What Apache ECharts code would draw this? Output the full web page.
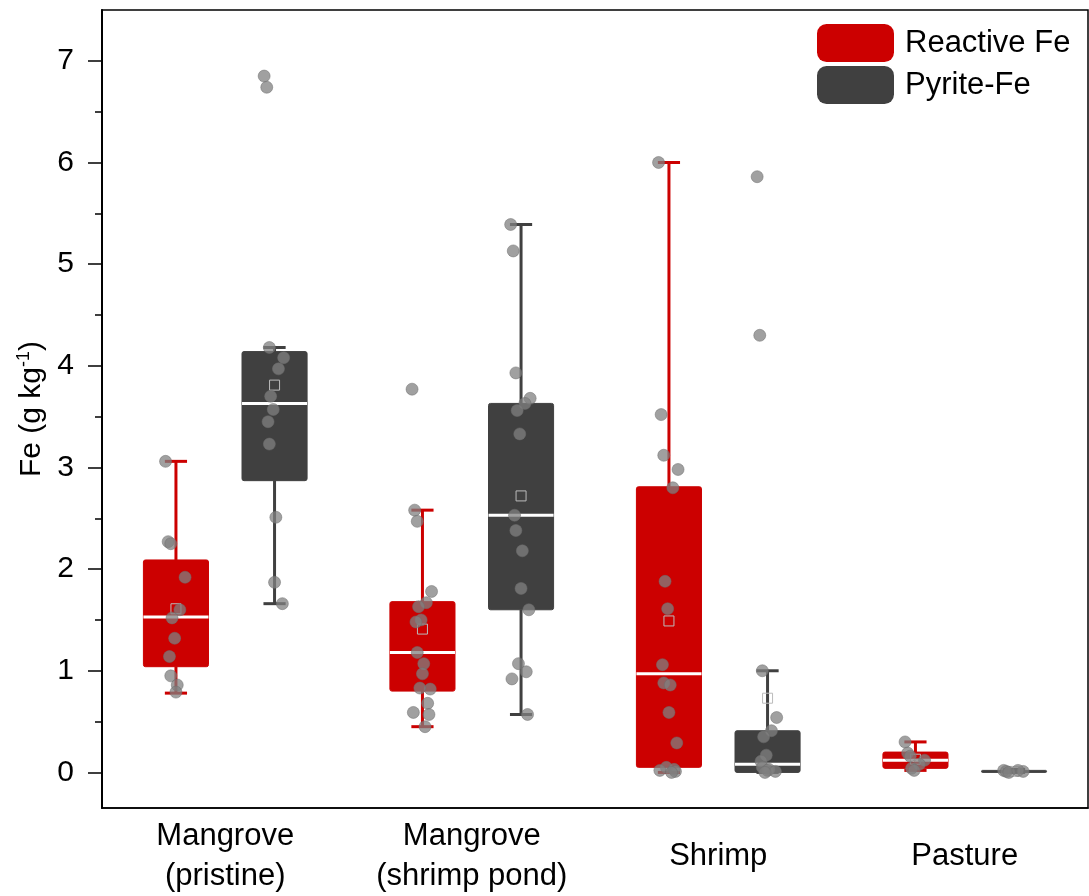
<!DOCTYPE html>
<html>
<head>
<meta charset="utf-8">
<script src="https://cdn.jsdelivr.net/npm/echarts@6/dist/echarts.min.js"></script>
<style>
  html, body { margin: 0; padding: 0; background: #fff; }
  #chart { width: 1089px; height: 896px; }
</style>
</head>
<body>
<div id="chart"></div>
<script>
var categories = ['Mangrove\n(pristine)', 'Mangrove\n(shrimp pond)', 'Shrimp', 'Pasture'];

// [min, Q1, median, Q3, max]
var reactiveBox = [[0.78, 1.04, 1.53, 2.09, 3.06], [0.45, 0.80, 1.18, 1.68, 2.58], [0.00, 0.05, 0.97, 2.81, 6.00], [0.02, 0.04, 0.12, 0.20, 0.30]];
var pyriteBox = [[1.66, 2.87, 3.63, 4.14, 4.18], [0.57, 1.60, 2.53, 3.63, 5.39], [0.00, 0.00, 0.08, 0.41, 1.00], [0.00, 0.005, 0.01, 0.02, 0.03]];
var reactiveMean = [1.61, 1.41, 1.49, 0.13];
var pyriteMean = [3.81, 2.72, 0.73, 0.01];

var reactivePoints = [
    [3.06, 2.27, 2.25, 1.92, 1.60, 1.52, 1.32, 1.14, 0.95, 0.86, 0.79],
    [3.77, 2.58, 2.47, 1.78, 1.67, 1.63, 1.50, 1.48, 1.18, 1.07, 0.97, 0.82, 0.83, 0.68, 0.59, 0.57, 0.45],
    [6.00, 3.52, 3.12, 2.98, 2.80, 1.88, 1.61, 1.06, 0.88, 0.86, 0.59, 0.29, 0.05, 0.03, 0.02, 0.01, 0.00],
    [0.30, 0.19, 0.16, 0.12, 0.08, 0.04, 0.02]
];
var pyritePoints = [
    [6.85, 6.74, 4.18, 4.08, 3.97, 3.70, 3.57, 3.45, 3.23, 2.51, 1.87, 1.66],
    [5.39, 5.13, 3.93, 3.68, 3.63, 3.56, 3.33, 2.53, 2.38, 2.18, 1.81, 1.60, 1.07, 0.99, 0.92, 0.57],
    [5.86, 4.30, 1.00, 0.54, 0.41, 0.35, 0.17, 0.11, 0.05, 0.03, 0.02, 0.01, 0.00],
    [0.02, 0.01, 0.00, 0.01, 0.02]
];

var yTicks = [0, 1, 2, 3, 4, 5, 6, 7];
var yMinorTicks = [0.5, 1.5, 2.5, 3.5, 4.5, 5.5, 6.5];

var RED = '#cc0000', DARK = '#404040';
var FONT = 'Liberation Sans, Arial, sans-serif';

function boxData(boxes, means) {
    return boxes.map(function (b, i) { return [i].concat(b).concat([means[i]]); });
}
function pointData(groups) {
    var out = [];
    groups.forEach(function (g, i) {
        g.forEach(function (v, j) { out.push([i, v, j]); });
    });
    return out;
}

function boxRender(side) {
    return function (params, api) {
        var c = api.value(0);
        var band = api.size([1, 0])[0];
        var x = api.coord([c, 0])[0] + side * band * 0.2;
        var half = band * 0.132, cap = band * 0.045;
        var y = [1, 2, 3, 4, 5, 6].map(function (d) { return api.coord([c, api.value(d)])[1]; });
        var color = api.visual('color');
        var w = { stroke: color, lineWidth: 3 };
        var boxH = y[1] - y[3];
        var kids = [
            { type: 'line', shape: { x1: x, y1: y[4], x2: x, y2: y[3] }, style: w },
            { type: 'line', shape: { x1: x, y1: y[0], x2: x, y2: y[1] }, style: w },
            { type: 'line', shape: { x1: x - cap, y1: y[4], x2: x + cap, y2: y[4] }, style: w },
            { type: 'line', shape: { x1: x - cap, y1: y[0], x2: x + cap, y2: y[0] }, style: w },
            { type: 'rect', shape: { x: x - half, y: y[3], width: half * 2, height: Math.max(boxH, 2), r: 2 },
              style: { fill: color, stroke: color, lineWidth: 1 } }
        ];
        if (boxH > 6) {
            kids.push({ type: 'line', shape: { x1: x - half, y1: y[2], x2: x + half, y2: y[2] }, style: { stroke: '#fff', lineWidth: 3 } });
        }
        kids.push({ type: 'rect', shape: { x: x - 5, y: y[5] - 5, width: 10, height: 10 },
            style: { fill: 'none', stroke: '#bbbbbb', lineWidth: 1 } });
        return { type: 'group', children: kids };
    };
}

var jitter = [-0.8, -0.6, -0.4, 0.7, 0.3, -0.3, -0.1, -0.5, -0.4, 0.1, 0.0, 0.6, -0.2, 0.4, -0.7, 0.5, 0.2];
function pointRender(side) {
    return function (params, api) {
        var c = api.value(0);
        var band = api.size([1, 0])[0];
        var p = api.coord([c, api.value(1)]);
        var x = p[0] + side * band * 0.2 + jitter[api.value(2) % jitter.length] * 13;
        return {
            type: 'circle',
            shape: { cx: x, cy: p[1], r: 6 },
            style: { fill: 'rgba(128,128,128,0.75)', stroke: 'rgba(110,110,110,0.5)', lineWidth: 1 }
        };
    };
}

var chart = echarts.init(document.getElementById('chart'));

var option = {
    animation: false,
    grid: { left: 102, right: 1, top: 10, bottom: 88, show: true, borderColor: '#000', borderWidth: 1.5 },
    legend: {
        data: ['Reactive Fe', 'Pyrite-Fe'],
        orient: 'vertical',
        left: 812,
        top: 19,
        icon: 'roundRect',
        itemWidth: 77,
        itemHeight: 38,
        itemGap: 4,
        textStyle: { fontSize: 31, color: '#000', fontFamily: FONT, padding: [0, 0, 0, 6] }
    },
    xAxis: {
        type: 'category',
        data: categories,
        boundaryGap: true,
        axisLine: { onZero: false, lineStyle: { color: '#000', width: 1.5 } },
        axisTick: { show: false },
        axisLabel: { interval: 0, fontSize: 31, lineHeight: 40, margin: 48, verticalAlign: 'middle', color: '#000', fontFamily: FONT },
        splitLine: { show: false }
    },
    yAxis: [{
        type: 'value',
        min: -0.35,
        max: 7.5,
        name: '{a|Fe (g kg}{s|-1}{a|)}',
        nameLocation: 'middle',
        nameRotate: 90,
        nameGap: 54,
        nameTextStyle: {
            rich: {
                a: { fontSize: 30, color: '#000', fontFamily: FONT },
                s: { fontSize: 18, color: '#000', fontFamily: FONT, verticalAlign: 'top', padding: [0, 0, 14, 0] }
            }
        },
        axisLine: { show: true, lineStyle: { color: '#000', width: 2 } },
        axisTick: { show: true, length: 14, lineStyle: { color: '#000', width: 1.5 }, customValues: yTicks },
        axisLabel: { fontSize: 30, color: '#000', margin: 28, fontFamily: FONT, customValues: yTicks },
        splitLine: { show: false }
    }, {
        type: 'value',
        min: -0.35,
        max: 7.5,
        position: 'left',
        axisLine: { show: false },
        axisTick: { show: true, length: 7, lineStyle: { color: '#000', width: 1.5 }, customValues: yMinorTicks },
        axisLabel: { show: false, customValues: yMinorTicks },
        splitLine: { show: false }
    }],
    series: [
        {
            name: 'Reactive Fe', type: 'custom', itemStyle: { color: RED },
            renderItem: boxRender(-1), data: boxData(reactiveBox, reactiveMean),
            encode: { x: 0, y: [1, 2, 3, 4, 5] }, z: 2
        },
        {
            name: 'Pyrite-Fe', type: 'custom', itemStyle: { color: DARK },
            renderItem: boxRender(1), data: boxData(pyriteBox, pyriteMean),
            encode: { x: 0, y: [1, 2, 3, 4, 5] }, z: 2
        },
        {
            name: 'Reactive Fe points', type: 'custom', itemStyle: { color: '#888' },
            renderItem: pointRender(-1), data: pointData(reactivePoints),
            encode: { x: 0, y: 1 }, z: 3
        },
        {
            name: 'Pyrite-Fe points', type: 'custom', itemStyle: { color: '#888' },
            renderItem: pointRender(1), data: pointData(pyritePoints),
            encode: { x: 0, y: 1 }, z: 3
        }
    ]
};
chart.setOption(option);
</script>
</body>
</html>
